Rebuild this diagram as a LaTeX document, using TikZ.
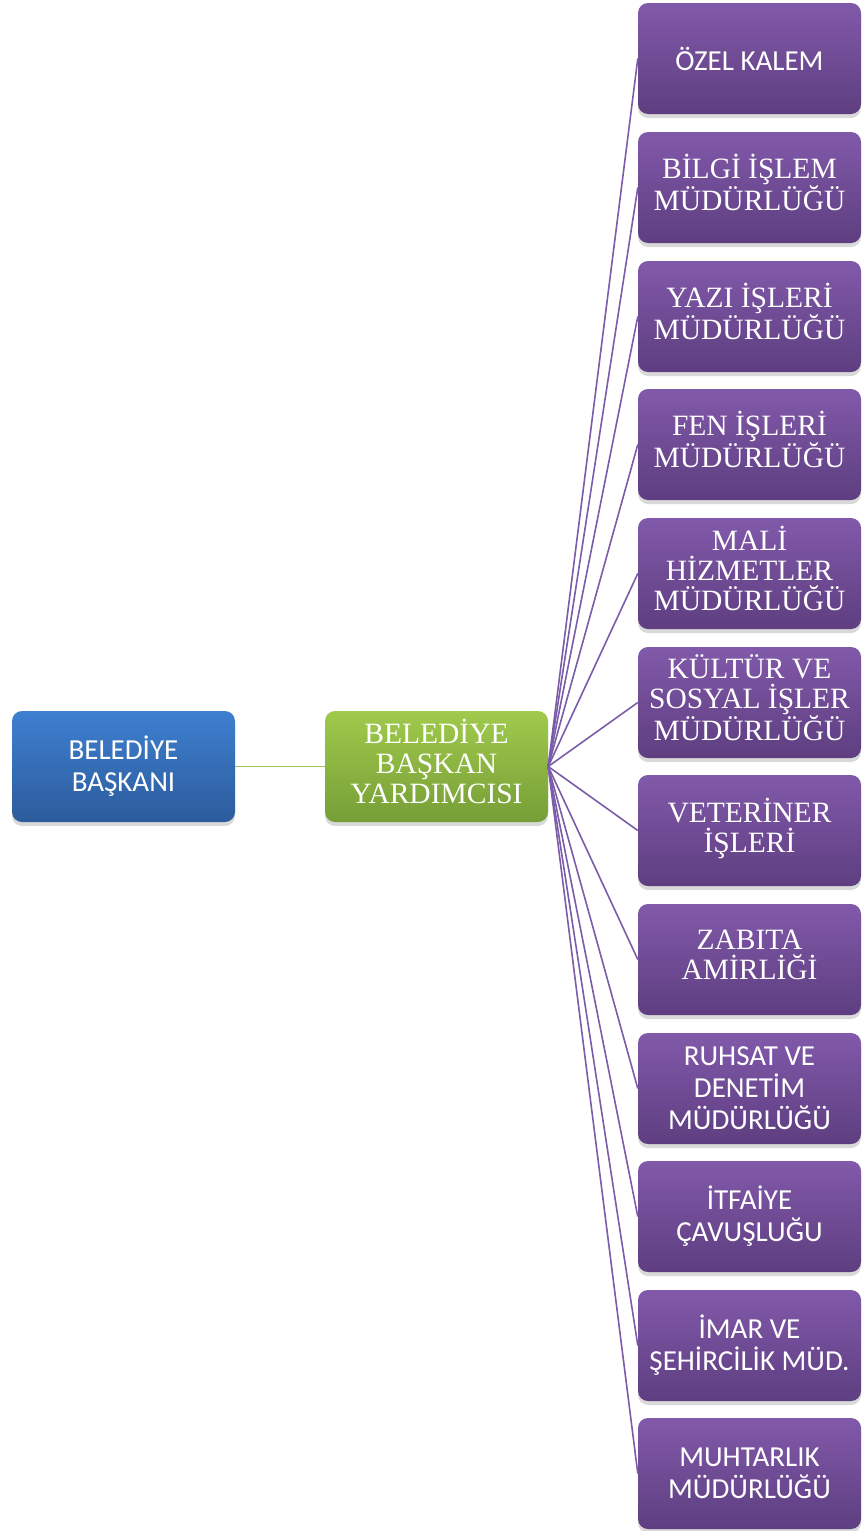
\documentclass[tikz,border=0pt]{standalone}
\usepackage{fontspec}
\setmainfont{Liberation Serif}
\newfontfamily\calfont{Carlito}
\usetikzlibrary{shadows}
\definecolor{ptop}{RGB}{129,89,170}
\definecolor{pbot}{RGB}{94,62,128}
\definecolor{btop}{RGB}{62,127,208}
\definecolor{bbot}{RGB}{44,92,156}
\definecolor{gtop}{RGB}{160,202,76}
\definecolor{gbot}{RGB}{118,158,55}
\definecolor{pline}{RGB}{122,92,168}
\definecolor{gline}{RGB}{155,195,90}
\tikzset{
  boxbase/.style={rounded corners=10pt, minimum width=223pt, minimum height=111pt,
    inner sep=0pt, align=center, text=white,
    drop shadow={shadow xshift=0pt, shadow yshift=-4pt, opacity=0.25, fill=black!60}},
  pbox/.style={boxbase, top color=ptop, bottom color=pbot},
  bbox/.style={boxbase, top color=btop, bottom color=bbot},
  gbox/.style={boxbase, top color=gtop, bottom color=gbot},
  serif/.style={font=\fontsize{29.5}{30}\selectfont, text depth=10pt},
  sans/.style={font=\calfont\fontsize{29}{32}\selectfont},
  pconn/.style={draw=pline, line width=1.6pt},
  gconn/.style={draw=gline, line width=1.6pt}
}
\begin{document}
\begin{tikzpicture}[x=1pt,y=-1pt]
\useasboundingbox (0,0) rectangle (862,1531);
\node[bbox, sans] (bb) at (123.5,766.5) {BELEDİYE\\BAŞKANI};
\node[gbox, serif] (by) at (436.5,766.5) {BELEDİYE\\BAŞKAN\\YARDIMCISI};
\node[pbox, sans]  (p1)  at (749.5,58.5)   {ÖZEL KALEM};
\node[pbox, serif] (p2)  at (749.5,187.5)  {BİLGİ İŞLEM\\MÜDÜRLÜĞÜ};
\node[pbox, serif] (p3)  at (749.5,316.5)  {YAZI İŞLERİ\\MÜDÜRLÜĞÜ};
\node[pbox, serif] (p4)  at (749.5,444.5)  {FEN İŞLERİ\\MÜDÜRLÜĞÜ};
\node[pbox, serif] (p5)  at (749.5,573.5)  {MALİ\\HİZMETLER\\MÜDÜRLÜĞÜ};
\node[pbox, serif] (p6)  at (749.5,702.5)  {KÜLTÜR VE\\SOSYAL İŞLER\\MÜDÜRLÜĞÜ};
\node[pbox, serif] (p7)  at (749.5,830.5)  {VETERİNER\\İŞLERİ};
\node[pbox, serif] (p8)  at (749.5,959.5)  {ZABITA\\AMİRLİĞİ};
\node[pbox, sans]  (p9)  at (749.5,1088.5) {RUHSAT VE\\DENETİM\\MÜDÜRLÜĞÜ};
\node[pbox, sans]  (p10) at (749.5,1216.5) {İTFAİYE\\ÇAVUŞLUĞU};
\node[pbox, sans]  (p11) at (749.5,1345.5) {İMAR VE\\ŞEHİRCİLİK MÜD.};
\node[pbox, sans]  (p12) at (749.5,1473.5) {MUHTARLIK\\MÜDÜRLÜĞÜ};
\draw[gconn] (bb.east) -- (by.west);
\foreach \i in {1,...,12} {
  \draw[pconn] (by.east) -- (p\i.west);
}
\end{tikzpicture}
\end{document}
